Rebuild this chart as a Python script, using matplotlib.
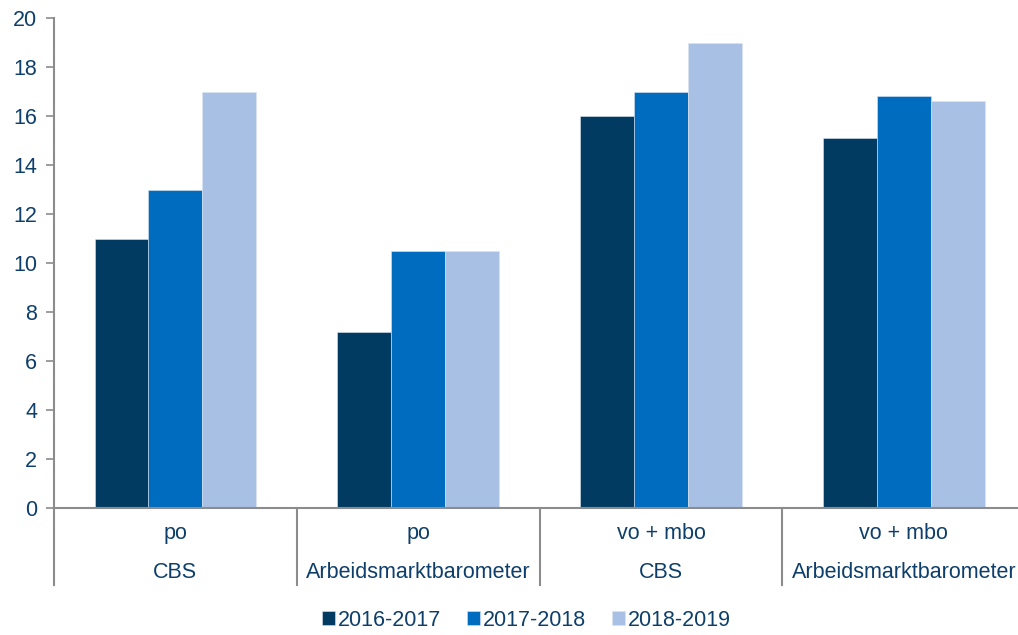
import matplotlib.pyplot as plt
import numpy as np

plt.rcParams['font.family'] = ['Liberation Sans', 'DejaVu Sans']

groups_top = ['po', 'po', 'vo + mbo', 'vo + mbo']
groups_bottom = ['CBS', 'Arbeidsmarktbarometer', 'CBS', 'Arbeidsmarktbarometer']
years = ['2016-2017', '2017-2018', '2018-2019']
vals_2016 = [11, 7.2, 16, 15.1]
vals_2017 = [13, 10.5, 17, 16.8]
vals_2018 = [17, 10.5, 19, 16.6]
colors = ['#023b62', '#006cc0', '#a7c0e4']

text_col = '#0e3f6b'
axis_col = '#8c8c8c'

fig = plt.figure(figsize=(10.18, 6.35), dpi=100)
ax = fig.add_axes([54 / 1018, 1 - 508 / 635, 1 - 54 / 1018, 490 / 635])

x = np.arange(len(groups_top))
w = 0.222
for i, (vals, lab) in enumerate(zip([vals_2016, vals_2017, vals_2018], years)):
    ax.bar(x + (i - 1) * w, vals, width=w, color=colors[i], label=lab,
           edgecolor='#dbe4f0', linewidth=0.4)

ax.set_ylim(0, 20)
ax.set_xlim(-0.5, 3.47)
ax.set_yticks(np.arange(0, 21, 2))
ax.tick_params(axis='y', colors=axis_col, labelcolor=text_col, labelsize=15.5,
               length=6, width=1.2, pad=6)
ax.set_xticks([])
for side in ['top', 'right']:
    ax.spines[side].set_visible(False)
for side in ['left', 'bottom']:
    ax.spines[side].set_color(axis_col)
    ax.spines[side].set_linewidth(1.5)

# group separators below the axis and two-line category labels
for b in np.arange(-0.5, 3.6, 1):
    ax.plot([b, b], [0, -3.15], color=axis_col, lw=1.5, clip_on=False)
for xi, t, btm in zip(x, groups_top, groups_bottom):
    ax.text(xi, -1.05, t, ha='center', va='center', color=text_col, fontsize=15.5)
    ax.text(xi, -2.65, btm, ha='center', va='center', color=text_col, fontsize=15.5)

ax.legend(loc='upper center', bbox_to_anchor=(0.49, -0.177), ncol=3, frameon=False,
          fontsize=15.5, labelcolor=text_col, handlelength=0.6, handleheight=0.6,
          handletextpad=0.15, columnspacing=1.2, borderpad=0.2)

fig.savefig('out.png', dpi=100)
